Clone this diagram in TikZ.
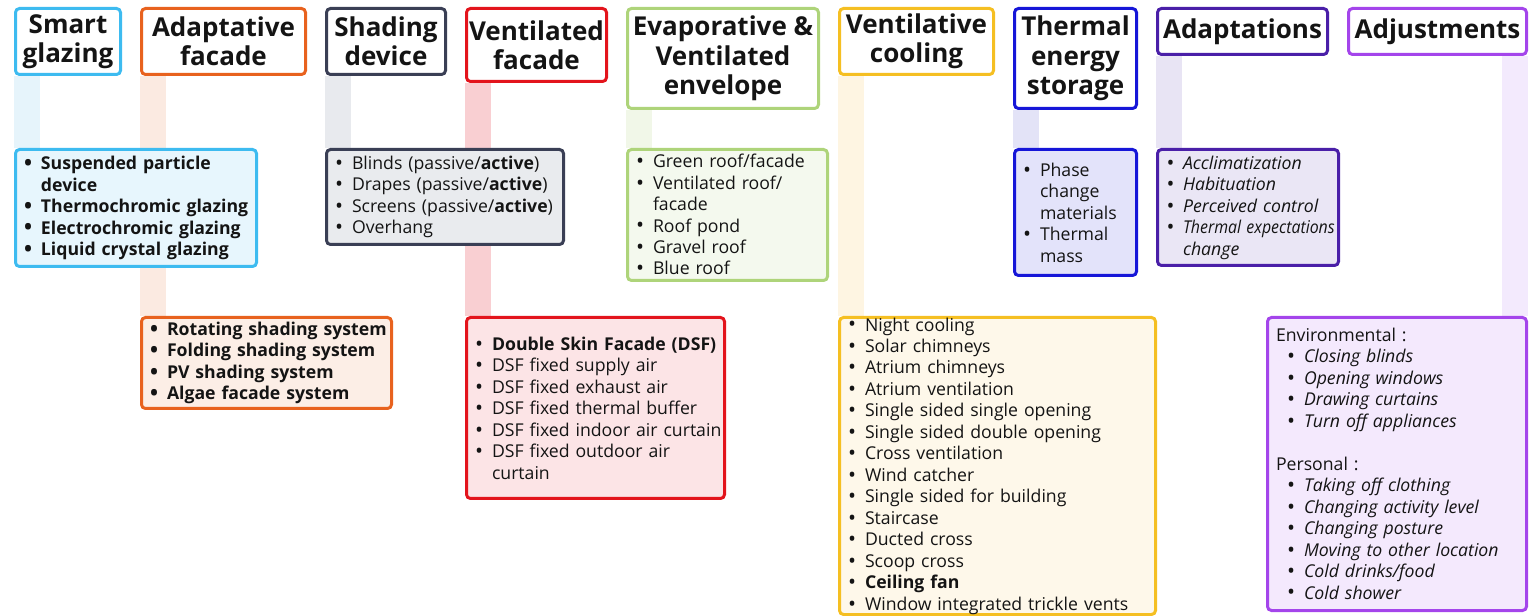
\documentclass[tikz,border=0pt]{standalone}
\usepackage{fontspec}
\setmainfont{Open Sans}
\usepackage{xcolor}
\usepackage{tikz}
\usetikzlibrary{
  positioning,
  backgrounds
}
\definecolor{ink}{HTML}{141414}
\definecolor{skyline}{HTML}{3DBBF0}
\definecolor{skyfill}{HTML}{E7F6FD}
\definecolor{skystem}{HTML}{E6F4FB}
\definecolor{orgline}{HTML}{E8621E}
\definecolor{orgfill}{HTML}{FCEEE6}
\definecolor{orgstem}{HTML}{FBEAE1}
\definecolor{slateline}{HTML}{3A3F55}
\definecolor{slatefill}{HTML}{E9EBEE}
\definecolor{slatestem}{HTML}{E8EAEE}
\definecolor{redline}{HTML}{E3141C}
\definecolor{redfill}{HTML}{FCE4E6}
\definecolor{redstem}{HTML}{F9CFD2}
\definecolor{grnline}{HTML}{AED47A}
\definecolor{grnfill}{HTML}{F4F9EE}
\definecolor{grnstem}{HTML}{F1F7E8}
\definecolor{goldline}{HTML}{F5BF22}
\definecolor{goldfill}{HTML}{FEF8EA}
\definecolor{goldstem}{HTML}{FEF5E2}
\definecolor{blueline}{HTML}{1616D8}
\definecolor{bluefill}{HTML}{E3E3FA}
\definecolor{bluestem}{HTML}{E3E3F7}
\definecolor{indline}{HTML}{4A1FA8}
\definecolor{indfill}{HTML}{EAE6F5}
\definecolor{indstem}{HTML}{E8E4F4}
\definecolor{violine}{HTML}{A445EB}
\definecolor{viofill}{HTML}{F4E9FD}
\definecolor{viostem}{HTML}{F3EAFD}
\newcommand{\pxu}{0.75pt}
\newcommand{\hdrfont}{\fontsize{19.5pt}{22.1pt}\selectfont\bfseries}
\newcommand{\bodyfont}{\fontsize{13.25pt}{16.1pt}\selectfont}
\newcommand{\bul}{\makebox[12.75pt][l]{\raisebox{-0.7pt}{\fontsize{16pt}{16pt}\selectfont\textbullet}}}
\newcommand{\ind}{\hspace*{12.75pt}}
\newcommand{\sbul}{\hspace*{8.25pt}\bul}
\hfuzz=20pt
\tikzset{
  hdr/.style n args = {3}{
    rectangle, rounded corners=3pt,
    draw=#1, line width=2.25pt, fill=white,
    minimum width=#2*\pxu-2.25pt, minimum height=#3*\pxu-2.25pt,
    inner sep=0pt, align=center, text=ink, font=\hdrfont
  },
  body/.style n args = {4}{
    rectangle, rounded corners=3pt,
    draw=#1, line width=2.25pt, fill=#2,
    text width=#3, minimum height=#4*\pxu-2.25pt,
    inner xsep=6.375pt, inner ysep=0pt,
    align=left, text=ink, font=\bodyfont
  },
  stem/.style = {draw=#1, line width=19.5pt},
}

\begin{document}
\begin{tikzpicture}[x=0.75pt, y=-0.75pt]

  \useasboundingbox (0,0) rectangle (1532,616);
  \coordinate (row1) at (0,148);
  \coordinate (row2) at (0,316);

  % Headers
  \node[hdr={skyline}{108}{69}, anchor=north west] (hsg) at (14,7)
    {Smart\\glazing};
  \node[hdr={orgline}{167}{69}, right=13.5pt of hsg.north east,
        anchor=north west] (had) {Adaptative\\facade};
  \node[hdr={slateline}{122}{69}, right=13.5pt of had.north east,
        anchor=north west] (hsd) {Shading\\device};
  \node[hdr={redline}{143}{76}, right=13.5pt of hsd.north east,
        anchor=north west] (hvf) {Ventilated\\facade};
  \node[hdr={grnline}{194}{103}, right=13.5pt of hvf.north east,
        anchor=north west] (hev) {Evaporative \&\\Ventilated\\envelope};
  \node[hdr={goldline}{157}{69}, right=13.5pt of hev.north east,
        anchor=north west] (hvc) {Ventilative\\cooling};
  \node[hdr={blueline}{125}{103}, right=13.5pt of hvc.north east,
        anchor=north west] (hte) {Thermal\\energy\\storage};
  \node[hdr={indline}{173}{49}, right=13.5pt of hte.north east,
        anchor=north west] (hap) {Adaptations};
  \node[hdr={violine}{181}{49}, right=13.5pt of hap.north east,
        anchor=north west] (haj) {Adjustments};

  % Boxes, upper row
  \node[body={skyline}{skyfill}{168pt}{120}, anchor=north west] (bsg)
    at (hsg.west |- row1)
    {\bfseries
     \bul Suspended particle\\
     \ind device\\
     \bul \mbox{Thermochromic glazing}\\
     \bul \mbox{Electrochromic glazing}\\
     \bul \mbox{Liquid crystal glazing}};

  \node[body={slateline}{slatefill}{165pt}{98}, anchor=north west] (bsd)
    at (hsd.west |- row1)
    {\bul \mbox{Blinds (passive/\textbf{active})}\\
     \bul \mbox{Drapes (passive/\textbf{active})}\\
     \bul \mbox{Screens (passive/\textbf{active})}\\
     \bul Overhang};

  \node[body={grnline}{grnfill}{137.25pt}{134}, anchor=north west] (bev)
    at (hev.west |- row1)
    {\bul Green roof/facade\\
     \bul Ventilated roof/\\
     \ind facade\\
     \bul Roof pond\\
     \bul Gravel roof\\
     \bul Blue roof};

  \node[body={blueline}{bluefill}{78.75pt}{129}, anchor=north west] (bte)
    at (hte.west |- row1)
    {\bul Phase\\
     \ind change\\
     \ind \mbox{materials}\\
     \bul Thermal\\
     \ind mass};

  \node[body={indline}{indfill}{123pt}{119}, anchor=north west] (bap)
    at (hap.west |- row1)
    {\itshape
     \bul Acclimatization\\
     \bul Habituation\\
     \bul Perceived control\\
     \bul \scalebox{0.9}[1]{Thermal expectations}\\
     \ind change};

  % Boxes, lower row
  \node[body={orgline}{orgfill}{174.75pt}{94}, anchor=north west] (bad)
    at (had.west |- row2)
    {\bfseries
     \bul \mbox{Rotating shading system}\\
     \bul \mbox{Folding shading system}\\
     \bul PV shading system\\
     \bul Algae facade system};

  \node[body={redline}{redfill}{180.75pt}{184}, anchor=north west] (bvf)
    at (hvf.west |- row2)
    {\bul \mbox{\textbf{Double Skin Facade (DSF)}}\\
     \bul DSF fixed supply air\\
     \bul DSF fixed exhaust air\\
     \bul DSF fixed thermal buffer\\
     \bul \mbox{DSF fixed indoor air curtain}\\
     \bul DSF fixed outdoor air\\
     \ind curtain};

  \node[body={goldline}{goldfill}{224.25pt}{300}, anchor=north west] (bvc)
    at (hvc.west |- row2)
    {\bul Night cooling\\
     \bul Solar chimneys\\
     \bul Atrium chimneys\\
     \bul Atrium ventilation\\
     \bul Single sided single opening\\
     \bul Single sided double opening\\
     \bul Cross ventilation\\
     \bul Wind catcher\\
     \bul Single sided for building\\
     \bul Staircase\\
     \bul Ducted cross\\
     \bul Scoop cross\\
     \bul \textbf{Ceiling fan}\\
     \bul \mbox{Window integrated trickle vents}};

  \node[body={violine}{viofill}{181.5pt}{296}, anchor=north east] (baj)
    at (haj.east |- row2)
    {Environmental :\\
     \sbul \textit{Closing blinds}\\
     \sbul \textit{Opening windows}\\
     \sbul \textit{Drawing curtains}\\
     \sbul \textit{Turn off appliances}\\
     \mbox{}\\
     Personal :\\
     \sbul \textit{Taking off clothing}\\
     \sbul \textit{Changing activity level}\\
     \sbul \textit{Changing posture}\\
     \sbul \mbox{\textit{Moving to other location}}\\
     \sbul \textit{Cold drinks/food}\\
     \sbul \textit{Cold shower}};

  % Stems
  \begin{scope}[on background layer]
    \draw[stem=skystem] ([xshift=9.75pt]hsg.south west) -- ([xshift=9.75pt]bsg.north west);
    \draw[stem=orgstem] ([xshift=9.75pt]had.south west) -- ([xshift=9.75pt]bad.north west);
    \draw[stem=slatestem] ([xshift=9.75pt]hsd.south west) -- ([xshift=9.75pt]bsd.north west);
    \draw[stem=redstem] ([xshift=9.75pt]hvf.south west) -- ([xshift=9.75pt]bvf.north west);
    \draw[stem=grnstem] ([xshift=9.75pt]hev.south west) -- ([xshift=9.75pt]bev.north west);
    \draw[stem=goldstem] ([xshift=9.75pt]hvc.south west) -- ([xshift=9.75pt]bvc.north west);
    \draw[stem=bluestem] ([xshift=9.75pt]hte.south west) -- ([xshift=9.75pt]bte.north west);
    \draw[stem=indstem] ([xshift=9.75pt]hap.south west) -- ([xshift=9.75pt]bap.north west);
    \draw[stem=viostem] ([xshift=-9.75pt]haj.south east) -- ([xshift=-9.75pt]baj.north east);
  \end{scope}

\end{tikzpicture}
\end{document}
